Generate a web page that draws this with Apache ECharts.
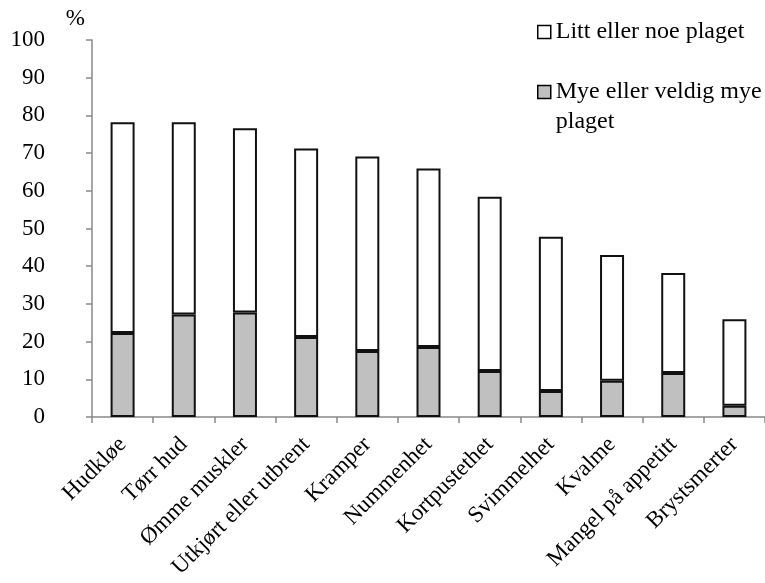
<!DOCTYPE html>
<html>
<head>
<meta charset="utf-8">
<script src="https://cdn.jsdelivr.net/npm/echarts@6/dist/echarts.min.js"></script>
<style>
  html, body { margin: 0; padding: 0; background: #fff; }
  #chart { width: 765px; height: 583px; }
</style>
</head>
<body>
<div id="chart"></div>
<script>
// Symptoms, sorted by share of patients reporting them
const categories = [
  'Hudkløe', 'Tørr hud', 'Ømme muskler', 'Utkjørt eller utbrent', 'Kramper',
  'Nummenhet', 'Kortpustethet', 'Svimmelhet', 'Kvalme', 'Mangel på appetitt', 'Brystsmerter'
];
// "Mye eller veldig mye plaget" (%), lower segment
const muchBothered = [22.3, 27.2, 27.7, 21.2, 17.5, 18.6, 12.2, 6.9, 9.6, 11.7, 3.0];
// "Litt eller noe plaget" (%), stacked on top
const littleBothered = [55.9, 51.0, 48.9, 50.0, 51.6, 47.3, 46.2, 40.9, 33.4, 26.5, 22.9];
const yTicks = { min: 0, max: 100, interval: 10 };

const seriesNames = ['Litt eller noe plaget', 'Mye eller veldig mye plaget'];
const FONT = '"Liberation Serif", "Times New Roman", serif';
const FONT_SIZE = 23;
const LEGEND_LINE = 30;

const chart = echarts.init(document.getElementById('chart'), null, { renderer: 'canvas' });

const barBase = {
  type: 'bar',
  stack: 'total',
  barWidth: 24,
  animation: false
};

chart.setOption({
  backgroundColor: '#fff',
  textStyle: { fontFamily: FONT },
  grid: { left: 92, top: 40, right: -9, bottom: 166, containLabel: false },
  legend: {
    orient: 'vertical',
    left: 537,
    top: 17,
    padding: 0,
    itemWidth: 13,
    itemHeight: 13,
    itemGap: 0,
    icon: 'rect',
    data: [
      { name: seriesNames[0], itemStyle: { color: '#fff', borderColor: '#000', borderWidth: 1.5 } },
      { name: seriesNames[1], itemStyle: { color: '#c0c0c0', borderColor: '#000', borderWidth: 1.5 } }
    ],
    // the two-line entry gets an empty leading line so its swatch sits level with "Mye ..."
    formatter: function (name) {
      return name === seriesNames[1] ? '\u00a0\nMye eller veldig mye\nplaget' : name;
    },
    textStyle: {
      fontFamily: FONT,
      fontSize: 24,
      color: '#000',
      lineHeight: LEGEND_LINE
    }
  },
  xAxis: {
    type: 'category',
    data: categories,
    boundaryGap: true,
    axisLine: { lineStyle: { color: '#888', width: 1.5 } },
    axisTick: { show: true, alignWithLabel: false, length: 6, lineStyle: { color: '#888', width: 1.5 } },
    axisLabel: {
      rotate: 45,
      interval: 0,
      margin: 24,
      fontFamily: FONT,
      fontSize: FONT_SIZE,
      color: '#000'
    },
    splitLine: { show: false }
  },
  yAxis: {
    type: 'value',
    min: yTicks.min,
    max: yTicks.max,
    interval: yTicks.interval,
    name: '%',
    nameLocation: 'end',
    nameGap: 10,
    nameTextStyle: {
      fontFamily: FONT,
      fontSize: FONT_SIZE,
      color: '#000',
      align: 'right',
      padding: [0, 7, 0, 0]
    },
    axisLine: { show: true, lineStyle: { color: '#888', width: 1.5 } },
    axisTick: { show: true, inside: false, length: 6, lineStyle: { color: '#888', width: 1.5 } },
    axisLabel: {
      margin: 47,
      fontFamily: FONT,
      fontSize: FONT_SIZE,
      color: '#000'
    },
    splitLine: { show: false }
  },
  series: [
    Object.assign({}, barBase, {
      name: seriesNames[1],
      data: muchBothered,
      itemStyle: { color: '#c0c0c0', borderColor: '#111', borderWidth: 2 }
    }),
    Object.assign({}, barBase, {
      name: seriesNames[0],
      data: littleBothered,
      itemStyle: { color: '#fff', borderColor: '#111', borderWidth: 2 }
    })
  ]
});
</script>
</body>
</html>
